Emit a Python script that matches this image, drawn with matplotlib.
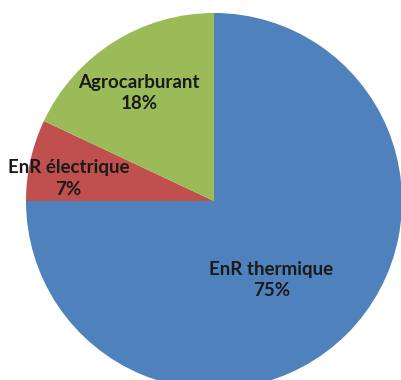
import matplotlib
matplotlib.use("Agg")
import matplotlib.pyplot as plt

categories = ["EnR thermique", "EnR électrique", "Agrocarburant"]
values = [75, 7, 18]
colors = ["#4F81BD", "#C0504D", "#9BBB59"]
label_pos = [(0.305, -0.42), (-0.775, 0.12), (-0.40, 0.575)]

fig = plt.figure(figsize=(4.02, 3.80), dpi=100)
fig.patch.set_facecolor("white")
# centre at (214, 201) px from top-left, radius 188 px
cx, cy, r = 214, 201, 188
W, H = 402, 380
ax = fig.add_axes([(cx - r) / W, (H - cy - r) / H, 2 * r / W, 2 * r / H])
ax.pie(values, colors=colors, startangle=90, counterclock=False,
       radius=1, wedgeprops=dict(edgecolor="none", linewidth=0))
ax.set_xlim(-1, 1)
ax.set_ylim(-1, 1)
ax.set_aspect("auto")
ax.axis("off")

for cat, val, (x, y) in zip(categories, values, label_pos):
    ax.text(x, y, f"{cat}\n{val}%", ha="center", va="center",
            fontsize=13.5, fontweight="bold", family="Lato",
            color="#1a1a1a", linespacing=1.3)

fig.savefig("out.png", dpi=100, facecolor="white")
